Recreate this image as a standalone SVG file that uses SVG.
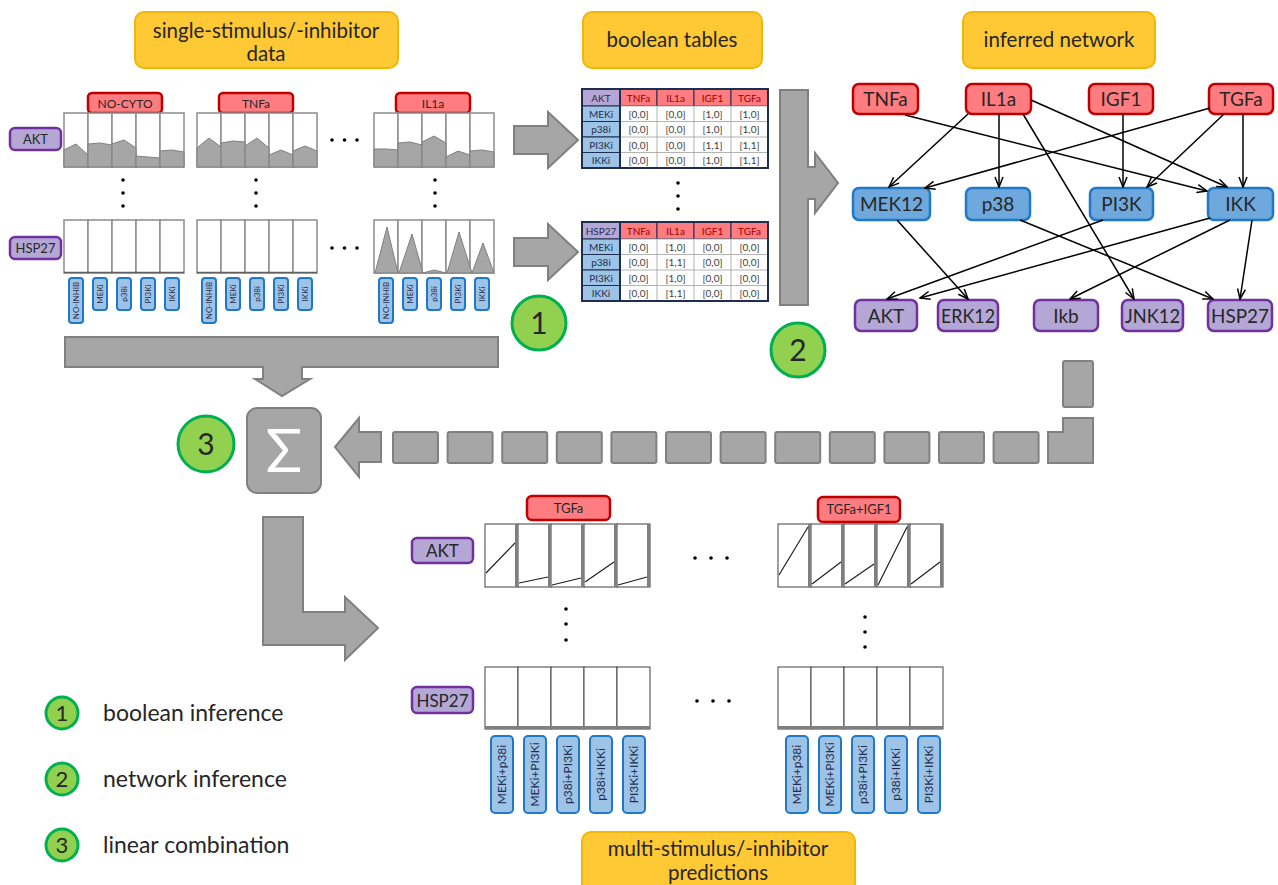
<svg xmlns="http://www.w3.org/2000/svg" width="1278" height="885" viewBox="0 0 1278 885">
<defs>
<style>
text{font-family:Lato,"Liberation Sans",sans-serif;fill:#262626}
.yel{fill:#ffc936;stroke:#f2b705;stroke-width:2}
.red{fill:#ff7c80;stroke:#c00000;stroke-width:2.5}
.blue{fill:#6fa8dc;stroke:#1f78c8;stroke-width:2.5}
.pur{fill:#b4a7d6;stroke:#7030a0;stroke-width:2.5}
.inh{fill:#9dc3e6;stroke:#1f78c8;stroke-width:2}
.gray{fill:#a6a6a6;stroke:#808080;stroke-width:2}
.grn{fill:#92d050;stroke:#00b050;stroke-width:3}
.plot{fill:#fff;stroke:#8c8c8c;stroke-width:1.5}
.area{fill:#a6a6a6;stroke:#7f7f7f;stroke-width:1}
.pp{fill:#fff;stroke:#404040;stroke-width:1}
.pe{stroke:#7f7f7f;stroke-width:3}
.pl{stroke:#202020;stroke-width:1.2;fill:none}
.edge{stroke:#000;stroke-width:1.5;fill:none;marker-end:url(#ah)}
.dot{fill:#000}
.c{text-anchor:middle}
.nt{text-anchor:middle;font-size:19px}
.th{fill:#ff7c80;stroke:#1f2d50;stroke-width:1}
.tl{fill:#9dc3e6;stroke:#1f2d50;stroke-width:1}
.tp{fill:#b4a7d6;stroke:#1f2d50;stroke-width:1}
.td{fill:#fff;stroke:#a0a0a0;stroke-width:0.8}
.tht{font-size:10px;fill:#9a0000;text-anchor:middle}
.tlt{font-size:10px;fill:#1f2d50;text-anchor:middle}
.tdt{font-size:10px;fill:#404040;text-anchor:middle}
.it{font-size:8px;fill:#1f2d50;text-anchor:middle}
.it2{font-size:12px;fill:#1f2d50;text-anchor:middle}
</style>
<marker id="ah" viewBox="0 0 12 10" refX="11" refY="5" markerWidth="12" markerHeight="10" markerUnits="userSpaceOnUse" orient="auto">
<path d="M1,1 L11,5 L1,9" fill="none" stroke="#000" stroke-width="1.5"/>
</marker>
</defs>
<rect width="1278" height="885" fill="#fff"/>

<!-- title boxes -->
<g id="title-data"><rect class="yel" x="135" y="12" width="263" height="56" rx="9"/><text class="c" x="266" y="38" font-size="20.5">single-stimulus/-inhibitor</text><text class="c" x="266" y="61" font-size="20.5">data</text></g>
<g id="title-tables"><rect class="yel" x="583" y="12" width="179" height="56" rx="9"/><text class="c" x="672" y="47" font-size="20.5">boolean tables</text></g>
<g id="title-network"><rect class="yel" x="963" y="12" width="192" height="56" rx="9"/><text class="c" x="1059" y="47" font-size="20.5">inferred network</text></g>
<g id="title-pred"><rect class="yel" x="582" y="832" width="273" height="60" rx="9"/><text class="c" x="718" y="856" font-size="20.5">multi-stimulus/-inhibitor</text><text class="c" x="718" y="880" font-size="20.5">predictions</text></g>

<!-- data panel -->
<g id="data-panel">
<g id="data-labels">
<rect class="red" x="88" y="93" width="74" height="20" rx="4"/><text class="c" x="125" y="107.5" font-size="12">NO-CYTO</text>
<rect class="red" x="219" y="93" width="74" height="20" rx="4"/><text class="c" x="256" y="107.5" font-size="12">TNFa</text>
<rect class="red" x="396" y="93" width="74" height="20" rx="4"/><text class="c" x="433" y="107.5" font-size="12">IL1a</text>
<rect class="pur" x="10" y="128" width="51" height="22" rx="5"/><text class="c" x="35.5" y="144" font-size="13">AKT</text>
<rect class="pur" x="10" y="237" width="51" height="22" rx="5"/><text class="c" x="35.5" y="253" font-size="13">HSP27</text>
</g>
<g id="akt-plots">
<rect class="plot" x="64" y="113" width="24" height="54"/><rect class="plot" x="88" y="113" width="24" height="54"/><rect class="plot" x="112" y="113" width="24" height="54"/><rect class="plot" x="136" y="113" width="24" height="54"/><rect class="plot" x="160" y="113" width="24" height="54"/>
<rect class="plot" x="197" y="113" width="24" height="54"/><rect class="plot" x="221" y="113" width="24" height="54"/><rect class="plot" x="245" y="113" width="24" height="54"/><rect class="plot" x="269" y="113" width="24" height="54"/><rect class="plot" x="293" y="113" width="24" height="54"/>
<rect class="plot" x="374" y="113" width="24" height="54"/><rect class="plot" x="398" y="113" width="24" height="54"/><rect class="plot" x="422" y="113" width="24" height="54"/><rect class="plot" x="446" y="113" width="24" height="54"/><rect class="plot" x="470" y="113" width="24" height="54"/>
<polygon class="area" points="64,150 76,144 88,155 88,167 64,167"/>
<polygon class="area" points="88,144 100,143 112,145 112,167 88,167"/>
<polygon class="area" points="112,144 124,140 136,148 136,167 112,167"/>
<polygon class="area" points="136,156 148,157 160,158 160,167 136,167"/>
<polygon class="area" points="160,151 172,150 184,152 184,167 160,167"/>
<polygon class="area" points="197,148 209,138 221,147 221,167 197,167"/>
<polygon class="area" points="221,143 233,141 245,142 245,167 221,167"/>
<polygon class="area" points="245,146 257,138 269,148 269,167 245,167"/>
<polygon class="area" points="269,155 281,150 293,155 293,167 269,167"/>
<polygon class="area" points="293,151 305,146 317,151 317,167 293,167"/>
<polygon class="area" points="374,149 386,149 398,150 398,167 374,167"/>
<polygon class="area" points="398,143 410,142 422,145 422,167 398,167"/>
<polygon class="area" points="422,142 434,136 446,143 446,167 422,167"/>
<polygon class="area" points="446,157 458,151 470,155 470,167 446,167"/>
<polygon class="area" points="470,151 482,150 494,152 494,167 470,167"/>
</g>
<g id="hsp-plots">
<rect class="plot" x="64" y="220" width="24" height="53"/><rect class="plot" x="88" y="220" width="24" height="53"/><rect class="plot" x="112" y="220" width="24" height="53"/><rect class="plot" x="136" y="220" width="24" height="53"/><rect class="plot" x="160" y="220" width="24" height="53"/>
<rect class="plot" x="197" y="220" width="24" height="53"/><rect class="plot" x="221" y="220" width="24" height="53"/><rect class="plot" x="245" y="220" width="24" height="53"/><rect class="plot" x="269" y="220" width="24" height="53"/><rect class="plot" x="293" y="220" width="24" height="53"/>
<rect class="plot" x="374" y="220" width="24" height="53"/><rect class="plot" x="398" y="220" width="24" height="53"/><rect class="plot" x="422" y="220" width="24" height="53"/><rect class="plot" x="446" y="220" width="24" height="53"/><rect class="plot" x="470" y="220" width="24" height="53"/>
<line x1="64" y1="272.5" x2="184" y2="272.5" stroke="#606060" stroke-width="1.5"/>
<line x1="197" y1="272.5" x2="317" y2="272.5" stroke="#606060" stroke-width="1.5"/>
<polygon class="area" points="375,273 387,227 398,273"/>
<polygon class="area" points="399,273 412,234 423,273"/>
<polygon class="area" points="423,273 434,270 446,273"/>
<polygon class="area" points="447,273 459,232 472,273"/>
<polygon class="area" points="472,273 483,243 494,273"/>
</g>
<g id="data-inhibitors">
<rect class="inh" x="69" y="278" width="14" height="45" rx="3"/><text class="it" transform="translate(78.8,300.5) rotate(-90)">NO-INHIB</text>
<rect class="inh" x="93" y="278" width="14" height="32" rx="3"/><text class="it" transform="translate(102.8,294) rotate(-90)">MEKi</text>
<rect class="inh" x="117" y="278" width="14" height="32" rx="3"/><text class="it" transform="translate(126.8,294) rotate(-90)">p38i</text>
<rect class="inh" x="141" y="278" width="14" height="32" rx="3"/><text class="it" transform="translate(150.8,294) rotate(-90)">PI3Ki</text>
<rect class="inh" x="165" y="278" width="14" height="32" rx="3"/><text class="it" transform="translate(174.8,294) rotate(-90)">IKKi</text>
<rect class="inh" x="202" y="278" width="14" height="45" rx="3"/><text class="it" transform="translate(211.8,300.5) rotate(-90)">NO-INHIB</text>
<rect class="inh" x="226" y="278" width="14" height="32" rx="3"/><text class="it" transform="translate(235.8,294) rotate(-90)">MEKi</text>
<rect class="inh" x="250" y="278" width="14" height="32" rx="3"/><text class="it" transform="translate(259.8,294) rotate(-90)">p38i</text>
<rect class="inh" x="274" y="278" width="14" height="32" rx="3"/><text class="it" transform="translate(283.8,294) rotate(-90)">PI3Ki</text>
<rect class="inh" x="298" y="278" width="14" height="32" rx="3"/><text class="it" transform="translate(307.8,294) rotate(-90)">IKKi</text>
<rect class="inh" x="379" y="278" width="14" height="45" rx="3"/><text class="it" transform="translate(388.8,300.5) rotate(-90)">NO-INHIB</text>
<rect class="inh" x="403" y="278" width="14" height="32" rx="3"/><text class="it" transform="translate(412.8,294) rotate(-90)">MEKi</text>
<rect class="inh" x="427" y="278" width="14" height="32" rx="3"/><text class="it" transform="translate(436.8,294) rotate(-90)">p38i</text>
<rect class="inh" x="451" y="278" width="14" height="32" rx="3"/><text class="it" transform="translate(460.8,294) rotate(-90)">PI3Ki</text>
<rect class="inh" x="475" y="278" width="14" height="32" rx="3"/><text class="it" transform="translate(484.8,294) rotate(-90)">IKKi</text>
</g>
<g id="data-dots">
<circle class="dot" cx="123" cy="180" r="1.8"/><circle class="dot" cx="123" cy="193" r="1.8"/><circle class="dot" cx="123" cy="206" r="1.8"/>
<circle class="dot" cx="256" cy="180" r="1.8"/><circle class="dot" cx="256" cy="193" r="1.8"/><circle class="dot" cx="256" cy="206" r="1.8"/>
<circle class="dot" cx="435" cy="180" r="1.8"/><circle class="dot" cx="435" cy="193" r="1.8"/><circle class="dot" cx="435" cy="206" r="1.8"/>
<circle class="dot" cx="332" cy="140" r="1.8"/><circle class="dot" cx="344.5" cy="140" r="1.8"/><circle class="dot" cx="357" cy="140" r="1.8"/>
<circle class="dot" cx="332" cy="248" r="1.8"/><circle class="dot" cx="344.5" cy="248" r="1.8"/><circle class="dot" cx="357" cy="248" r="1.8"/>
</g>
</g>

<!-- boolean tables -->
<g id="table-akt">
<rect class="tp" x="582" y="89" width="38" height="17"/><text class="tlt" x="601" y="101.5">AKT</text>
<rect class="th" x="620" y="89" width="37" height="17"/><text class="tht" x="638.5" y="101.5">TNFa</text>
<rect class="th" x="657" y="89" width="37" height="17"/><text class="tht" x="675.5" y="101.5">IL1a</text>
<rect class="th" x="694" y="89" width="37" height="17"/><text class="tht" x="712.5" y="101.5">IGF1</text>
<rect class="th" x="731" y="89" width="37" height="17"/><text class="tht" x="749.5" y="101.5">TGFa</text>
<rect class="tl" x="582" y="106" width="38" height="15.5"/><text class="tlt" x="601" y="117.5">MEKi</text>
<rect class="tl" x="582" y="121.5" width="38" height="15.5"/><text class="tlt" x="601" y="133">p38i</text>
<rect class="tl" x="582" y="137" width="38" height="15.5"/><text class="tlt" x="601" y="148.5">PI3Ki</text>
<rect class="tl" x="582" y="152.5" width="38" height="15.5"/><text class="tlt" x="601" y="164">IKKi</text>
<rect class="td" x="620" y="106" width="148" height="62"/>
<path d="M657,106V168M694,106V168M731,106V168M620,121.5H768M620,137H768M620,152.5H768" stroke="#a0a0a0" stroke-width="0.8"/>
<text class="tdt" x="638.5" y="117.5">[0,0]</text><text class="tdt" x="675.5" y="117.5">[0,0]</text><text class="tdt" x="712.5" y="117.5">[1,0]</text><text class="tdt" x="749.5" y="117.5">[1,0]</text>
<text class="tdt" x="638.5" y="133">[0,0]</text><text class="tdt" x="675.5" y="133">[0,0]</text><text class="tdt" x="712.5" y="133">[1,0]</text><text class="tdt" x="749.5" y="133">[1,0]</text>
<text class="tdt" x="638.5" y="148.5">[0,0]</text><text class="tdt" x="675.5" y="148.5">[0,0]</text><text class="tdt" x="712.5" y="148.5">[1,1]</text><text class="tdt" x="749.5" y="148.5">[1,1]</text>
<text class="tdt" x="638.5" y="164">[0,0]</text><text class="tdt" x="675.5" y="164">[0,0]</text><text class="tdt" x="712.5" y="164">[1,0]</text><text class="tdt" x="749.5" y="164">[1,1]</text>
<rect x="582" y="89" width="186" height="79" fill="none" stroke="#1f2d50" stroke-width="2"/>
<line x1="620" y1="89" x2="620" y2="168" stroke="#1f2d50" stroke-width="2"/>
</g>
<g id="table-dots"><circle class="dot" cx="678" cy="183" r="1.8"/><circle class="dot" cx="678" cy="196" r="1.8"/><circle class="dot" cx="678" cy="209" r="1.8"/></g>
<g id="table-hsp27">
<rect class="tp" x="582" y="222" width="38" height="17"/><text class="tlt" x="601" y="234.5">HSP27</text>
<rect class="th" x="620" y="222" width="37" height="17"/><text class="tht" x="638.5" y="234.5">TNFa</text>
<rect class="th" x="657" y="222" width="37" height="17"/><text class="tht" x="675.5" y="234.5">IL1a</text>
<rect class="th" x="694" y="222" width="37" height="17"/><text class="tht" x="712.5" y="234.5">IGF1</text>
<rect class="th" x="731" y="222" width="37" height="17"/><text class="tht" x="749.5" y="234.5">TGFa</text>
<rect class="tl" x="582" y="239" width="38" height="15.5"/><text class="tlt" x="601" y="250.5">MEKi</text>
<rect class="tl" x="582" y="254.5" width="38" height="15.5"/><text class="tlt" x="601" y="266">p38i</text>
<rect class="tl" x="582" y="270" width="38" height="15.5"/><text class="tlt" x="601" y="281.5">PI3Ki</text>
<rect class="tl" x="582" y="285.5" width="38" height="15.5"/><text class="tlt" x="601" y="297">IKKi</text>
<rect class="td" x="620" y="239" width="148" height="62"/>
<path d="M657,239V301M694,239V301M731,239V301M620,254.5H768M620,270H768M620,285.5H768" stroke="#a0a0a0" stroke-width="0.8"/>
<text class="tdt" x="638.5" y="250.5">[0,0]</text><text class="tdt" x="675.5" y="250.5">[1,0]</text><text class="tdt" x="712.5" y="250.5">[0,0]</text><text class="tdt" x="749.5" y="250.5">[0,0]</text>
<text class="tdt" x="638.5" y="266">[0,0]</text><text class="tdt" x="675.5" y="266">[1,1]</text><text class="tdt" x="712.5" y="266">[0,0]</text><text class="tdt" x="749.5" y="266">[0,0]</text>
<text class="tdt" x="638.5" y="281.5">[0,0]</text><text class="tdt" x="675.5" y="281.5">[1,0]</text><text class="tdt" x="712.5" y="281.5">[0,0]</text><text class="tdt" x="749.5" y="281.5">[0,0]</text>
<text class="tdt" x="638.5" y="297">[0,0]</text><text class="tdt" x="675.5" y="297">[1,1]</text><text class="tdt" x="712.5" y="297">[0,0]</text><text class="tdt" x="749.5" y="297">[0,0]</text>
<rect x="582" y="222" width="186" height="79" fill="none" stroke="#1f2d50" stroke-width="2"/>
<line x1="620" y1="222" x2="620" y2="301" stroke="#1f2d50" stroke-width="2"/>
</g>

<!-- network nodes -->
<g id="n-TNFa"><rect class="red" x="853" y="84" width="65" height="30" rx="6"/><text class="nt" x="885.5" y="106">TNFa</text></g>
<g id="n-IL1a"><rect class="red" x="966" y="84" width="65" height="30" rx="6"/><text class="nt" x="998.5" y="106">IL1a</text></g>
<g id="n-IGF1"><rect class="red" x="1089" y="84" width="64" height="30" rx="6"/><text class="nt" x="1121" y="106">IGF1</text></g>
<g id="n-TGFa"><rect class="red" x="1209" y="84" width="64" height="30" rx="6"/><text class="nt" x="1241" y="106">TGFa</text></g>
<g id="n-MEK12"><rect class="blue" x="853" y="188" width="77" height="32" rx="6"/><text class="nt" x="891.5" y="211">MEK12</text></g>
<g id="n-p38"><rect class="blue" x="966" y="188" width="64" height="32" rx="6"/><text class="nt" x="998" y="211">p38</text></g>
<g id="n-PI3K"><rect class="blue" x="1090" y="188" width="63" height="32" rx="6"/><text class="nt" x="1121.5" y="211">PI3K</text></g>
<g id="n-IKK"><rect class="blue" x="1208" y="188" width="65" height="32" rx="6"/><text class="nt" x="1240.5" y="211">IKK</text></g>
<g id="n-AKT"><rect class="pur" x="855" y="300" width="62" height="31" rx="6"/><text class="nt" x="886" y="322.5">AKT</text></g>
<g id="n-ERK12"><rect class="pur" x="938" y="300" width="60" height="31" rx="6"/><text class="nt" x="968" y="322.5" textLength="54" lengthAdjust="spacingAndGlyphs">ERK12</text></g>
<g id="n-Ikb"><rect class="pur" x="1034" y="300" width="64" height="31" rx="6"/><text class="nt" x="1066" y="322.5">Ikb</text></g>
<g id="n-JNK12"><rect class="pur" x="1122" y="300" width="61" height="31" rx="6"/><text class="nt" x="1152.5" y="322.5" textLength="55" lengthAdjust="spacingAndGlyphs">JNK12</text></g>
<g id="n-HSP27"><rect class="pur" x="1208" y="300" width="64" height="31" rx="6"/><text class="nt" x="1240" y="322.5" textLength="58" lengthAdjust="spacingAndGlyphs">HSP27</text></g>

<!-- connectors -->
<g id="connectors">
<line class="edge" x1="905" y1="115" x2="1207" y2="191"/>
<line class="edge" x1="968" y1="114" x2="889" y2="187"/>
<line class="edge" x1="999" y1="114" x2="999" y2="187"/>
<line class="edge" x1="1023" y1="114" x2="1134" y2="299"/>
<line class="edge" x1="1031" y1="100" x2="1227" y2="187"/>
<line class="edge" x1="1123" y1="114" x2="1123" y2="187"/>
<line class="edge" x1="1210" y1="108" x2="925" y2="188"/>
<line class="edge" x1="1224" y1="114" x2="1147" y2="187"/>
<line class="edge" x1="1243" y1="114" x2="1243" y2="187"/>
<line class="edge" x1="897" y1="220" x2="968" y2="299"/>
<line class="edge" x1="1020" y1="220" x2="1213" y2="299"/>
<line class="edge" x1="1103" y1="220" x2="887" y2="299"/>
<line class="edge" x1="1210" y1="218" x2="920" y2="298"/>
<line class="edge" x1="1230" y1="220" x2="1070" y2="299"/>
<line class="edge" x1="1252" y1="220" x2="1240" y2="299"/>
</g>

<!-- gray flow arrows -->
<g id="flow-arrows">
<polygon class="gray" points="514,126 548,126 548,112 578,140 548,168 548,154 514,154"/>
<polygon class="gray" points="514,238 548,238 548,224 578,252 548,280 548,266 514,266"/>
<polygon class="gray" points="780,90 808,90 808,167 815,167 815,153 838,183 815,213 815,199 808,199 808,305 780,305"/>
<polygon class="gray" points="65,337 498,337 498,367 302,367 302,379 310,379 282,396 255,379 263,379 263,367 65,367"/>
<polygon class="gray" points="335,447 359,418 359,432 381,432 381,462 359,462 359,477"/>
<rect class="gray" x="393" y="432" width="45" height="31" rx="2"/>
<rect class="gray" x="447.6" y="432" width="45" height="31" rx="2"/>
<rect class="gray" x="502.2" y="432" width="45" height="31" rx="2"/>
<rect class="gray" x="556.8" y="432" width="45" height="31" rx="2"/>
<rect class="gray" x="611.4" y="432" width="45" height="31" rx="2"/>
<rect class="gray" x="666" y="432" width="45" height="31" rx="2"/>
<rect class="gray" x="720.6" y="432" width="45" height="31" rx="2"/>
<rect class="gray" x="775.2" y="432" width="45" height="31" rx="2"/>
<rect class="gray" x="829.8" y="432" width="45" height="31" rx="2"/>
<rect class="gray" x="884.4" y="432" width="45" height="31" rx="2"/>
<rect class="gray" x="939" y="432" width="45" height="31" rx="2"/>
<rect class="gray" x="993.6" y="432" width="45" height="31" rx="2"/>
<polygon class="gray" points="1048,432 1063,432 1063,418 1093,418 1093,463 1048,463"/>
<rect class="gray" x="1063" y="361" width="30" height="46" rx="2"/>
<polygon class="gray" points="263,517 303,517 303,612 345,612 345,597 378,628 345,660 345,645 263,645"/>
</g>

<g id="sigma"><rect class="gray" x="247" y="408" width="74" height="85" rx="10"/><text class="c" x="284" y="472" font-size="60" style="fill:#fff">Σ</text></g>

<g id="step1"><circle class="grn" cx="539" cy="323" r="27"/><text class="c" x="539" y="334" font-size="30">1</text></g>
<g id="step2"><circle class="grn" cx="798" cy="350" r="27"/><text class="c" x="798" y="361" font-size="30">2</text></g>
<g id="step3"><circle class="grn" cx="206" cy="444" r="28"/><text class="c" x="206" y="455" font-size="30">3</text></g>

<!-- prediction panel -->
<g id="pred-panel">
<g id="pred-labels">
<rect class="red" x="527" y="496" width="83" height="24" rx="5"/><text class="c" x="568.5" y="513" font-size="13">TGFa</text>
<rect class="red" x="818" y="497" width="82" height="25" rx="5"/><text class="c" x="859" y="514" font-size="13">TGFa+IGF1</text>
<rect class="pur" x="412" y="538" width="61" height="25" rx="5"/><text class="c" x="442.5" y="557" font-size="17">AKT</text>
<rect class="pur" x="412" y="687" width="61" height="26" rx="5"/><text class="c" x="442.5" y="706.5" font-size="17">HSP27</text>
</g>
<g id="pred-akt">
<rect class="pp" x="485" y="524" width="33" height="63"/><rect class="pp" x="518" y="524" width="33" height="63"/><rect class="pp" x="551" y="524" width="33" height="63"/><rect class="pp" x="584" y="524" width="33" height="63"/><rect class="pp" x="617" y="524" width="33" height="63"/>
<rect class="pp" x="778" y="524" width="33" height="63"/><rect class="pp" x="811" y="524" width="33" height="63"/><rect class="pp" x="844" y="524" width="33" height="63"/><rect class="pp" x="877" y="524" width="33" height="63"/><rect class="pp" x="910" y="524" width="33" height="63"/>
<path class="pe" d="M516.5,524V587M549.5,524V587M582.5,524V587M615.5,524V587M648.5,524V587M809.5,524V587M842.5,524V587M875.5,524V587M908.5,524V587M941.5,524V587"/>
<path class="pl" d="M486,573L515,543M519,583L548,577M552,585L581,578M585,582L614,562M618,585L647,577"/>
<path class="pl" d="M779,575L808,527M812,584L841,562M845,584L874,564M878,585L907,527M911,584L940,562"/>
</g>
<g id="pred-hsp27">
<rect class="pp" x="485" y="667" width="33" height="62"/><rect class="pp" x="518" y="667" width="33" height="62"/><rect class="pp" x="551" y="667" width="33" height="62"/><rect class="pp" x="584" y="667" width="33" height="62"/><rect class="pp" x="617" y="667" width="33" height="62"/>
<rect class="pp" x="778" y="667" width="33" height="62"/><rect class="pp" x="811" y="667" width="33" height="62"/><rect class="pp" x="844" y="667" width="33" height="62"/><rect class="pp" x="877" y="667" width="33" height="62"/><rect class="pp" x="910" y="667" width="33" height="62"/>
<path class="pe" d="M485,727.5H650M778,727.5H943"/>
</g>
<g id="pred-inhibitors">
<rect class="inh" x="491" y="736" width="22" height="77" rx="4"/><text class="it2" transform="translate(506.3,774.5) rotate(-90)">MEKi+p38i</text>
<rect class="inh" x="524" y="736" width="22" height="77" rx="4"/><text class="it2" transform="translate(539.3,774.5) rotate(-90)">MEKi+PI3Ki</text>
<rect class="inh" x="557" y="736" width="22" height="77" rx="4"/><text class="it2" transform="translate(572.3,774.5) rotate(-90)">p38i+PI3Ki</text>
<rect class="inh" x="590" y="736" width="22" height="77" rx="4"/><text class="it2" transform="translate(605.3,774.5) rotate(-90)">p38i+IKKi</text>
<rect class="inh" x="623" y="736" width="22" height="77" rx="4"/><text class="it2" transform="translate(638.3,774.5) rotate(-90)">PI3Ki+IKKi</text>
<rect class="inh" x="786" y="736" width="22" height="77" rx="4"/><text class="it2" transform="translate(801.3,774.5) rotate(-90)">MEKi+p38i</text>
<rect class="inh" x="819" y="736" width="22" height="77" rx="4"/><text class="it2" transform="translate(834.3,774.5) rotate(-90)">MEKi+PI3Ki</text>
<rect class="inh" x="852" y="736" width="22" height="77" rx="4"/><text class="it2" transform="translate(867.3,774.5) rotate(-90)">p38i+PI3Ki</text>
<rect class="inh" x="885" y="736" width="22" height="77" rx="4"/><text class="it2" transform="translate(900.3,774.5) rotate(-90)">p38i+IKKi</text>
<rect class="inh" x="918" y="736" width="22" height="77" rx="4"/><text class="it2" transform="translate(933.3,774.5) rotate(-90)">PI3Ki+IKKi</text>
</g>
<g id="pred-dots">
<circle class="dot" cx="566" cy="609" r="1.8"/><circle class="dot" cx="566" cy="624" r="1.8"/><circle class="dot" cx="566" cy="640" r="1.8"/>
<circle class="dot" cx="865" cy="617" r="1.8"/><circle class="dot" cx="865" cy="632" r="1.8"/><circle class="dot" cx="865" cy="647" r="1.8"/>
<circle class="dot" cx="695" cy="558" r="1.8"/><circle class="dot" cx="711" cy="558" r="1.8"/><circle class="dot" cx="727" cy="558" r="1.8"/>
<circle class="dot" cx="697" cy="701" r="1.8"/><circle class="dot" cx="713" cy="701" r="1.8"/><circle class="dot" cx="729" cy="701" r="1.8"/>
</g>
</g>

<!-- legend -->
<g id="legend">
<circle class="grn" cx="62" cy="713" r="16"/><text class="c" x="62" y="721" font-size="22">1</text><text x="103" y="721" font-size="23">boolean inference</text>
<circle class="grn" cx="62" cy="779" r="16"/><text class="c" x="62" y="787" font-size="22">2</text><text x="103" y="787" font-size="23">network inference</text>
<circle class="grn" cx="62" cy="845" r="16"/><text class="c" x="62" y="853" font-size="22">3</text><text x="103" y="853" font-size="23">linear combination</text>
</g>
</svg>
